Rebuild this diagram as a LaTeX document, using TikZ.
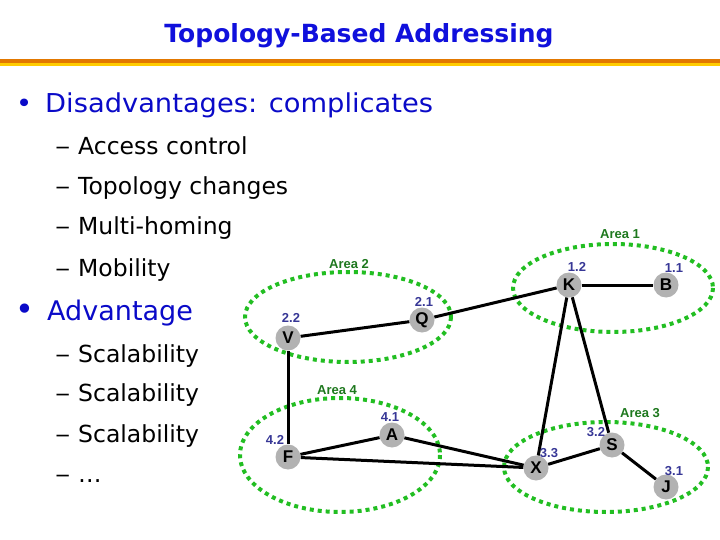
\documentclass[tikz,border=0pt]{standalone}
\usepackage{fontspec}
\usepackage{graphicx}
\setmainfont{DejaVu Sans}
\newfontfamily\smallfont{Liberation Sans}
\newfontfamily\widefont[FakeStretch=1.05]{DejaVu Sans}
\usetikzlibrary{positioning, backgrounds}
\definecolor{titleblue}{RGB}{16,16,220}
\definecolor{bulletblue}{RGB}{10,10,200}
\definecolor{barorange}{RGB}{226,120,0}
\definecolor{baryellow}{RGB}{255,204,0}
\definecolor{areagreen}{RGB}{34,190,34}
\definecolor{areatext}{RGB}{30,120,30}
\definecolor{addrblue}{RGB}{55,55,150}
\definecolor{nodegray}{RGB}{178,178,178}
\newcommand{\subdash}{\makebox[23pt][l]{\scalebox{1.3}[1]{–}}}

\begin{document}
\begin{tikzpicture}[
  x=1pt, y=-1pt,
  router/.style = {circle, fill=nodegray, minimum size=25pt, inner sep=0pt,
                   font=\smallfont\bfseries\fontsize{17}{17}\selectfont},
  addr/.style = {text=addrblue, inner sep=0pt, font=\smallfont\bfseries\fontsize{13}{13}\selectfont},
  area/.style = {draw=areagreen, line width=4pt, dash pattern=on 4pt off 4pt},
  arealabel/.style = {text=areatext, inner sep=0pt, font=\smallfont\bfseries\fontsize{13}{13}\selectfont},
  link/.style = {line width=3pt},
  item/.style = {anchor=base west, inner sep=0pt, font=\fontsize{23.5}{23.5}\selectfont},
  head/.style = {anchor=base west, inner sep=0pt, text=bulletblue}
]
\useasboundingbox (0,0) rectangle (720,540);

% title and bar
\node (title) [anchor=base, inner sep=0pt, text=titleblue, font=\bfseries\fontsize{25}{25}\selectfont] at (359,43) {Topology-Based Addressing};
\fill[barorange] (0,59) rectangle (720,63);
\fill[baryellow] (0,63) rectangle (720,66);

% bullets
\node (dis) [head, font=\widefont\fontsize{26}{26}\selectfont] at (16,113)
  {\makebox[29pt][l]{\fontsize{26}{26}\selectfont •}Disadvantages: complicates};
\node (d1) [item] at (55,155) {\subdash Access control};
\node (d2) [item] at (55,195) {\subdash Topology changes};
\node (d3) [item] at (55,235) {\subdash Multi-homing};
\node (d4) [item] at (55,276) {\subdash Mobility};
\node (adv) [head, font=\fontsize{27}{27}\selectfont] at (15,320)
  {\makebox[32pt][l]{\fontsize{32}{32}\selectfont •}Advantage};
\node (a1) [item] at (55,362) {\subdash Scalability};
\node (a2) [item] at (55,401) {\subdash Scalability};
\node (a3) [item] at (55,442) {\subdash Scalability};
\node (a4) [item] at (55,482) {\subdash …};

% area labels
\node (ar1) [arealabel] at (620,234) {Area 1};
\node (ar2) [arealabel] at (349,264) {Area 2};
\node (ar4) [arealabel] at (337,390) {Area 4};
\node (ar3) [arealabel] at (640,413) {Area 3};

% routers
\node (K) [router] at (569,285) {K};
\node (B) [router] at (666,285) {B};
\node (Q) [router] at (422,320) {Q};
\node (V) [router] at (288,338) {V};
\node (A) [router] at (392,435) {A};
\node (F) [router] at (288,457) {F};
\node (X) [router] at (536,468) {X};
\node (S) [router] at (612,445) {S};
\node (J) [router] at (666,487) {J};

\begin{scope}[on background layer]
\draw[area] (613,288) ellipse [x radius=100, y radius=44];
\draw[area] (348,317) ellipse [x radius=103, y radius=45];
\draw[area] (340,455) ellipse [x radius=100, y radius=57];
\draw[area] (606,467) ellipse [x radius=102, y radius=45];
\draw[link] (V) -- (Q);
\draw[link] (Q) -- (K);
\draw[link] (K) -- (B);
\draw[link] (V) -- (F);
\draw[link] (F) -- (A);
\draw[link] (F) -- (X);
\draw[link] (A) -- (X);
\draw[link] (K) -- (X);
\draw[link] (K) -- (S);
\draw[link] (X) -- (S);
\draw[link] (S) -- (J);
\end{scope}

% addresses
\node (lK) [addr] at (577,267) {1.2};
\node (lB) [addr] at (674,268) {1.1};
\node (lQ) [addr] at (424,302) {2.1};
\node (lV) [addr] at (291,318) {2.2};
\node (lA) [addr] at (390,417) {4.1};
\node (lF) [addr] at (275,440) {4.2};
\node (lX) [addr] at (549,453) {3.3};
\node (lS) [addr] at (596,432) {3.2};
\node (lJ) [addr] at (674,471) {3.1};

\end{tikzpicture}
\end{document}
